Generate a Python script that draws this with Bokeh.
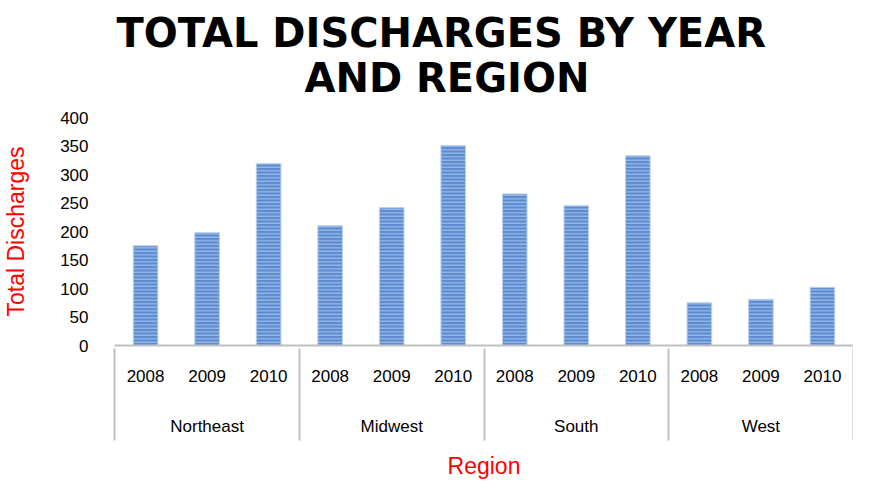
from bokeh.plotting import figure
from bokeh.models import FactorRange, ColumnDataSource, Title, FixedTicker, Range1d
from bokeh.embed import file_html
from bokeh.resources import INLINE

# ---- data ----
regions = ["Northeast", "Midwest", "South", "West"]
years = ["2008", "2009", "2010"]
northeast = [175, 198, 319]
midwest = [210, 242, 351]
south = [266, 245, 333]
west = [75, 81, 102]
y_ticks = [0, 50, 100, 150, 200, 250, 300, 350, 400]
title_line1 = "TOTAL DISCHARGES BY YEAR"
title_line2 = "AND REGION"
x_title = "Region"
y_title = "Total Discharges"

# group labels get a blank line above / below so they sit lower, as in the reference
def group_label(r):
    return "\n" + r + "\n"

factors = [(group_label(r), y) for r in regions for y in years]
counts = northeast + midwest + south + west

# blank edge groups so the axis draws the outer group separators
edge_left = [(" ", " ")]
edge_right = [("  ", "  ")]

x_range = FactorRange(*(edge_left + factors + edge_right),
                      group_padding=0, factor_padding=0,
                      range_padding=-0.995, range_padding_units="absolute")

source = ColumnDataSource(data=dict(x=factors, counts=counts))

FONT = "Liberation Sans"

p = figure(x_range=x_range, y_range=Range1d(0, 400),
           width=853, height=481, output_backend="svg",
           toolbar_location=None, title=None,
           min_border_left=104, min_border_right=0,
           min_border_top=0, min_border_bottom=0,
           background_fill_color="white", border_fill_color="white",
           outline_line_color=None)

p.vbar(x="x", top="counts", width=0.4, source=source,
       fill_color="#5A8AD0", line_color="#BDD1EE", line_width=1,
       hatch_pattern="horizontal_line", hatch_color="#A9C4EA",
       hatch_scale=3.5, hatch_weight=1.1)

p.xgrid.grid_line_color = None
p.ygrid.grid_line_color = None

# y axis
p.yaxis.ticker = FixedTicker(ticks=y_ticks)
p.yaxis.axis_line_color = None
p.yaxis.major_tick_line_color = None
p.yaxis.minor_tick_line_color = None
p.yaxis.major_label_standoff = 20
p.yaxis.major_label_text_font = FONT
p.yaxis.major_label_text_font_size = "17px"
p.yaxis.major_label_text_color = "#000000"
p.yaxis.axis_label = y_title
p.yaxis.axis_label_text_font = FONT
p.yaxis.axis_label_text_font_size = "23px"
p.yaxis.axis_label_text_font_style = "normal"
p.yaxis.axis_label_text_color = "#FF0000"
p.yaxis.axis_label_standoff = 28

# x axis
p.xaxis.axis_line_color = "#C0C0C0"
p.xaxis.axis_line_width = 2
p.xaxis.major_tick_line_color = None
p.xaxis.minor_tick_line_color = None
p.xaxis.major_label_standoff = 18
p.xaxis.major_label_text_font = FONT
p.xaxis.major_label_text_font_size = "17px"
p.xaxis.major_label_text_color = "#000000"
p.xaxis.group_text_font = FONT
p.xaxis.group_text_font_size = "17px"
p.xaxis.group_text_font_style = "normal"
p.xaxis.group_text_color = "#000000"
p.xaxis.group_text_line_height = 0.74
p.xaxis.separator_line_color = "#C0C0C0"
p.xaxis.separator_line_width = 2
p.xaxis.axis_label = x_title
p.xaxis.axis_label_text_font = FONT
p.xaxis.axis_label_text_font_size = "23px"
p.xaxis.axis_label_text_font_style = "normal"
p.xaxis.axis_label_text_color = "#FF0000"
p.xaxis.axis_label_standoff = 0

# two-line title (plus thin spacers)
gap_below = Title(text=" ", text_font_size="2px", standoff=16)
t2 = Title(text=title_line2, align="left", offset=190,
           text_font="DejaVu Sans", text_font_style="bold",
           text_font_size="40px", text_color="#000000", standoff=-6)
t1 = Title(text=title_line1, align="left", offset=2,
           text_font="DejaVu Sans", text_font_style="bold",
           text_font_size="40px", text_color="#000000", standoff=0)
gap_above = Title(text=" ", text_font_size="2px", standoff=3)
p.add_layout(gap_below, "above")
p.add_layout(t2, "above")
p.add_layout(t1, "above")
p.add_layout(gap_above, "above")

open("out.html", "w").write(file_html(p, INLINE))
